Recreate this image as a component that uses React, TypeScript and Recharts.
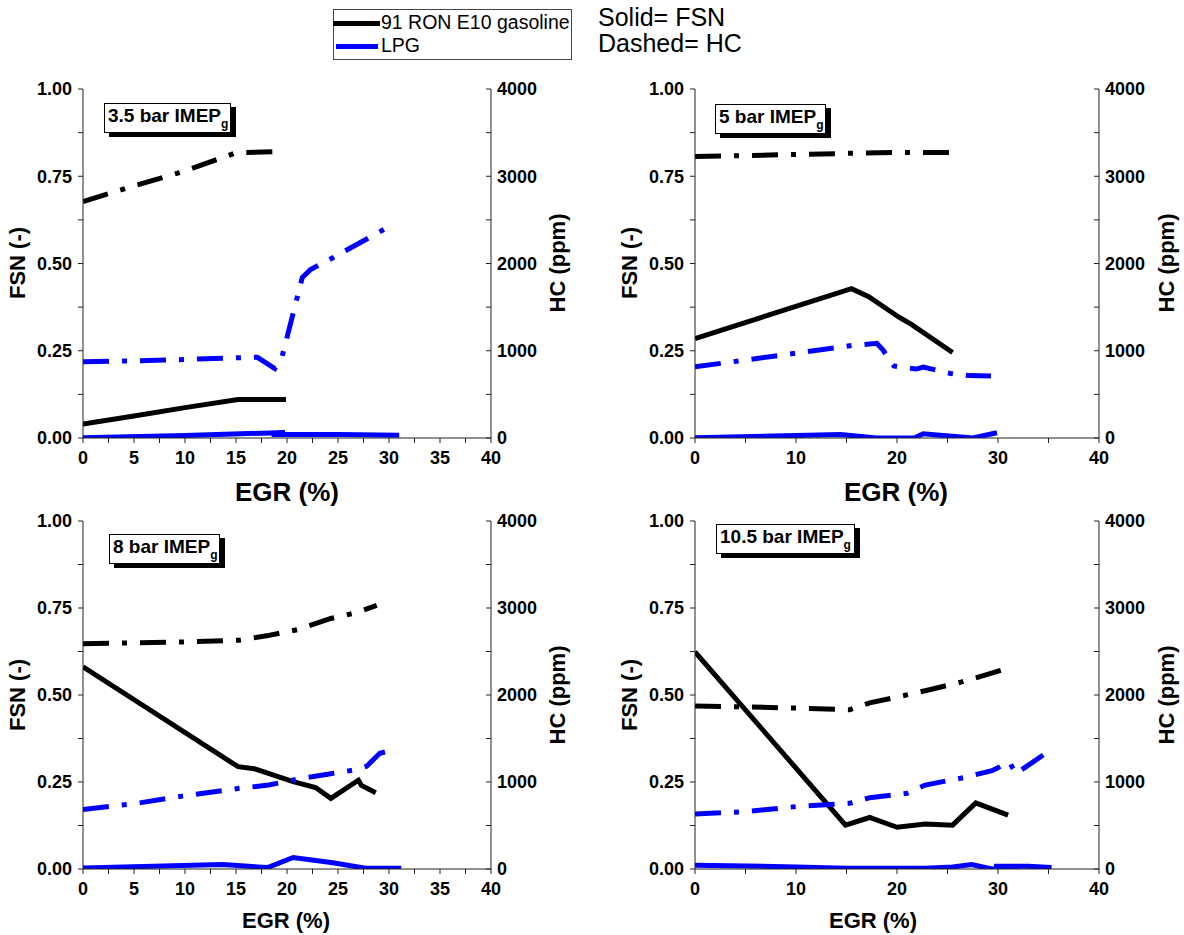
import { LineChart, Line, XAxis, YAxis } from 'recharts';

type Pt = [number, number];

// tick positions (majors get labels, the rest are minor ticks)
const egrTicksFine = [0, 2.5, 5, 7.5, 10, 12.5, 15, 17.5, 20, 22.5, 25, 27.5, 30, 32.5, 35, 37.5, 40];
const egrTicksWide = [0, 5, 10, 15, 20, 25, 30, 35, 40];
const fsnTicks = [0, 0.125, 0.25, 0.375, 0.5, 0.625, 0.75, 0.875, 1];
const hcTicks = [0, 500, 1000, 1500, 2000, 2500, 3000, 3500, 4000];

// 3.5 bar IMEPg  [EGR %, value]
const gasFsn35: Pt[] = [[0, 0.04], [5, 0.063], [10, 0.087], [15.2, 0.11], [19.9, 0.11]];
const gasHc35: Pt[] = [[0, 2710], [5, 2890], [10, 3060], [15, 3270], [18.7, 3280]];
const lpgFsn35: Pt[] = [[0, 0.001], [10, 0.007], [19.8, 0.016], [18.5, 0.01], [25, 0.01], [31, 0.008]];
const lpgHc35: Pt[] = [[0, 875], [5, 885], [10, 900], [15, 920], [17.1, 925], [18.8, 795], [19.5, 925], [21.5, 1840], [22.3, 1930], [24.4, 2060], [29.5, 2390]];

// 5 bar IMEPg
const gasFsn5: Pt[] = [[0, 0.285], [15.5, 0.428], [17.2, 0.405], [20.2, 0.346], [21.5, 0.324], [25.5, 0.245]];
const gasHc5: Pt[] = [[0, 3225], [10, 3250], [15, 3262], [20, 3272], [25.5, 3272]];
const lpgFsn5: Pt[] = [[0, 0.001], [14.4, 0.01], [18, 0], [21.7, 0], [22.6, 0.012], [27.5, 0], [29.9, 0.015]];
const lpgHc5: Pt[] = [[0, 815], [15.5, 1060], [18, 1085], [18.6, 1010], [19.7, 825], [21.9, 790], [22.6, 812], [23.8, 780], [25.3, 740], [27.2, 715], [29.3, 712]];

// 8 bar IMEPg
const gasFsn8: Pt[] = [[0, 0.581], [15.2, 0.294], [16.8, 0.288], [20.6, 0.251], [22.8, 0.234], [24.3, 0.203], [27, 0.255], [27.3, 0.24], [28.7, 0.219]];
const gasHc8: Pt[] = [[0, 2590], [10, 2610], [15.3, 2630], [18, 2680], [21, 2750], [24.3, 2880], [26.6, 2940], [28.8, 3030]];
const lpgFsn8: Pt[] = [[0, 0.003], [13.7, 0.013], [18.1, 0.004], [20.6, 0.033], [24.5, 0.018], [27.7, 0.002], [31.2, 0.002]];
const lpgHc8: Pt[] = [[0, 685], [5, 750], [9.6, 835], [15.2, 925], [18.2, 965], [20.9, 1030], [24, 1090], [26.7, 1140], [27.8, 1180], [29.1, 1330], [30.1, 1360]];

// 10.5 bar IMEPg
const gasFsn105: Pt[] = [[0, 0.624], [14.9, 0.126], [17.3, 0.148], [20, 0.12], [22.8, 0.129], [25.5, 0.126], [27.8, 0.19], [31, 0.155]];
const gasHc105: Pt[] = [[0, 1875], [10, 1850], [15.3, 1830], [17.3, 1910], [20.2, 1980], [23, 2055], [26.4, 2150], [30.8, 2300]];
const lpgFsn105: Pt[] = [[0, 0.011], [10, 0.006], [15, 0.002], [22.8, 0.002], [25.5, 0.006], [27.4, 0.013], [29.4, 0], [32.2, 0], [29.6, 0.008], [33, 0.008], [35.3, 0.004]];
const lpgHc105: Pt[] = [[0, 632], [5, 660], [10.5, 723], [15.3, 755], [17.3, 820], [21, 870], [22.8, 965], [26.6, 1050], [29.4, 1130], [30, 1165], [30.3, 1110], [31.9, 1210], [32.2, 1130], [35.3, 1375]];

const FONT = 'Arial, "Liberation Sans", sans-serif';
const DASH = '26 13 5 13';
const tickStyle = { fill: '#000', fontSize: 18, fontWeight: 'bold', fontFamily: FONT };

const rows = (pts: Pt[]) => pts.map(([x, y]) => ({ x, y }));

type PanelProps = {
  left: number;
  top: number;
  width: number;
  height: number;
  margin: { top: number; right: number; bottom: number; left: number };
  xTicks: number[];
  xMajor: number;
  gasFsn: Pt[];
  gasHc: Pt[];
  lpgFsn: Pt[];
  lpgHc: Pt[];
};

function Panel({ left, top, width, height, margin, xTicks, xMajor, gasFsn, gasHc, lpgFsn, lpgHc }: PanelProps) {
  return (
    <div style={{ position: 'absolute', left, top }}>
      <LineChart width={width} height={height} margin={margin}>
        <XAxis
          type="number"
          dataKey="x"
          domain={[0, 40]}
          ticks={xTicks}
          interval={0}
          allowDataOverflow
          height={30}
          stroke="#222"
          tickSize={5}
          tickMargin={8}
          tick={tickStyle}
          tickFormatter={(v: number) => (v % xMajor === 0 ? String(v) : '')}
        />
        <YAxis
          yAxisId="fsn"
          orientation="left"
          domain={[0, 1]}
          ticks={fsnTicks}
          interval={0}
          allowDataOverflow
          width={83}
          stroke="#222"
          tickSize={5}
          tickMargin={6}
          tick={tickStyle}
          tickFormatter={(v: number) => (v % 0.25 === 0 ? v.toFixed(2) : '')}
        />
        <YAxis
          yAxisId="hc"
          orientation="right"
          domain={[0, 4000]}
          ticks={hcTicks}
          interval={0}
          allowDataOverflow
          width={80}
          stroke="#222"
          tickSize={-5}
          tickMargin={11}
          tick={tickStyle}
          tickFormatter={(v: number) => (v % 1000 === 0 ? String(v) : '')}
        />
        <Line data={rows(gasFsn)} dataKey="y" yAxisId="fsn" stroke="#000" strokeWidth={5} dot={false} isAnimationActive={false} />
        <Line data={rows(gasHc)} dataKey="y" yAxisId="hc" stroke="#000" strokeWidth={5} strokeDasharray={DASH} dot={false} isAnimationActive={false} />
        <Line data={rows(lpgFsn)} dataKey="y" yAxisId="fsn" stroke="#0000ff" strokeWidth={5} dot={false} isAnimationActive={false} />
        <Line data={rows(lpgHc)} dataKey="y" yAxisId="hc" stroke="#0000ff" strokeWidth={5} strokeDasharray={DASH} dot={false} isAnimationActive={false} />
      </LineChart>
    </div>
  );
}

function Title({ x, y, size, text, rotate }: { x: number; y: number; size: number; text: string; rotate?: boolean }) {
  return (
    <div
      style={{
        position: 'absolute',
        left: x,
        top: y,
        transform: `translate(-50%, -50%)${rotate ? ' rotate(-90deg)' : ''}`,
        fontFamily: FONT,
        fontWeight: 'bold',
        fontSize: size,
        lineHeight: 1,
        whiteSpace: 'nowrap',
      }}
    >
      {text}
    </div>
  );
}

function LoadBox({ x, y, w, load }: { x: number; y: number; w: number; load: string }) {
  return (
    <div
      style={{
        position: 'absolute',
        left: x,
        top: y,
        width: w,
        height: 30,
        boxSizing: 'border-box',
        border: '1px solid #000',
        background: '#fff',
        boxShadow: '5px 4px 0 #000',
        fontFamily: FONT,
        fontWeight: 'bold',
        fontSize: 19,
        lineHeight: '28px',
        paddingLeft: 3,
        whiteSpace: 'nowrap',
      }}
    >
      <span style={{ position: 'relative', top: -2 }}>{load} bar IMEP</span>
      <span style={{ position: 'relative', top: 4, fontSize: 12 }}>g</span>
    </div>
  );
}

export default function App() {
  const topMargin = { top: 89, right: 21, bottom: 32, left: 0 };
  const topMarginR = { top: 89, right: 5, bottom: 32, left: 0 };
  const botMargin = { top: 21, right: 21, bottom: 36, left: 0 };
  const botMarginR = { top: 21, right: 5, bottom: 36, left: 0 };

  return (
    <div style={{ position: 'absolute', left: 0, top: 0, width: 1184, height: 935, background: '#fff', overflow: 'hidden' }}>
      <Panel left={0} top={0} width={592} height={500} margin={topMargin} xTicks={egrTicksFine} xMajor={5}
        gasFsn={gasFsn35} gasHc={gasHc35} lpgFsn={lpgFsn35} lpgHc={lpgHc35} />
      <Panel left={612} top={0} width={572} height={500} margin={topMarginR} xTicks={egrTicksWide} xMajor={10}
        gasFsn={gasFsn5} gasHc={gasHc5} lpgFsn={lpgFsn5} lpgHc={lpgHc5} />
      <Panel left={0} top={500} width={592} height={435} margin={botMargin} xTicks={egrTicksFine} xMajor={5}
        gasFsn={gasFsn8} gasHc={gasHc8} lpgFsn={lpgFsn8} lpgHc={lpgHc8} />
      <Panel left={612} top={500} width={572} height={435} margin={botMarginR} xTicks={egrTicksWide} xMajor={10}
        gasFsn={gasFsn105} gasHc={gasHc105} lpgFsn={lpgFsn105} lpgHc={lpgHc105} />

      {/* axis titles */}
      <Title x={18} y={263} size={22} text="FSN (-)" rotate />
      <Title x={558} y={263} size={22} text="HC (ppm)" rotate />
      <Title x={630} y={263} size={22} text="FSN (-)" rotate />
      <Title x={1167} y={263} size={22} text="HC (ppm)" rotate />
      <Title x={18} y={695} size={22} text="FSN (-)" rotate />
      <Title x={558} y={695} size={22} text="HC (ppm)" rotate />
      <Title x={630} y={695} size={22} text="FSN (-)" rotate />
      <Title x={1167} y={695} size={22} text="HC (ppm)" rotate />
      <Title x={287} y={492} size={26} text="EGR (%)" />
      <Title x={896} y={492} size={26} text="EGR (%)" />
      <Title x={286} y={921} size={22} text="EGR (%)" />
      <Title x={873} y={921} size={22} text="EGR (%)" />

      <LoadBox x={104} y={103} w={127} load="3.5" />
      <LoadBox x={715} y={104} w={111} load="5" />
      <LoadBox x={109} y={534} w={111} load="8" />
      <LoadBox x={716} y={524} w={139} load="10.5" />

      {/* legend */}
      <div style={{ position: 'absolute', left: 333, top: 9, width: 239, height: 51, boxSizing: 'border-box', border: '1px solid #444', background: '#fff' }} />
      <div style={{ position: 'absolute', left: 333, top: 21, width: 47, height: 5, background: '#000' }} />
      <div style={{ position: 'absolute', left: 336, top: 44, width: 42, height: 5, background: '#0000ff' }} />
      <div style={{ position: 'absolute', left: 381, top: 13, fontFamily: FONT, fontSize: 19.5, lineHeight: 1, whiteSpace: 'nowrap' }}>91 RON E10 gasoline</div>
      <div style={{ position: 'absolute', left: 381, top: 36, fontFamily: FONT, fontSize: 19.5, lineHeight: 1, whiteSpace: 'nowrap' }}>LPG</div>
      <div style={{ position: 'absolute', left: 598, top: 5, fontFamily: FONT, fontSize: 25, lineHeight: 1, whiteSpace: 'nowrap' }}>Solid= FSN</div>
      <div style={{ position: 'absolute', left: 598, top: 31, fontFamily: FONT, fontSize: 25, lineHeight: 1, whiteSpace: 'nowrap' }}>Dashed= HC</div>
    </div>
  );
}
